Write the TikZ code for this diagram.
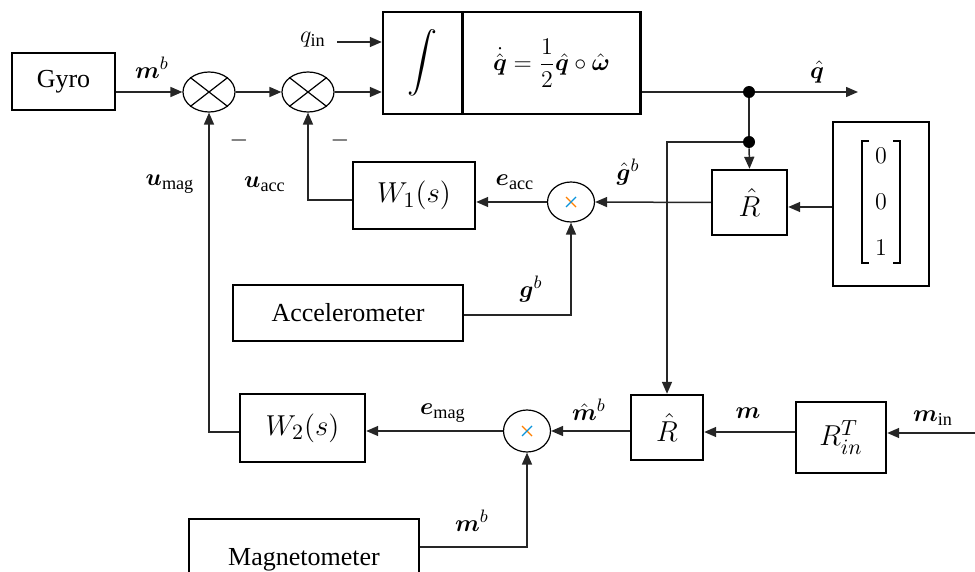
\documentclass[tikz,border=0pt]{standalone}
\usepackage{amsmath,amssymb,bm}
\usepackage{fontspec}
\setmainfont{Liberation Serif}
\usetikzlibrary{arrows.meta,shapes.geometric,calc}
\begin{document}
\begin{tikzpicture}[x=0.5pt,y=-0.5pt,
  font=\fontsize{13}{15}\selectfont,
  blk/.style={draw,line width=1.2pt,inner sep=0pt,align=center},
  big/.style={font=\fontsize{15.5}{18}\selectfont},
  sumx/.style={draw,ellipse,line width=0.6pt,inner sep=0pt},
  conn/.style={line width=0.75pt,draw=black!85},
  arr/.style={conn,-{Triangle[length=6pt,width=5pt]}},
  dotn/.style={circle,fill=black,inner sep=0pt,minimum size=6pt},
  lbl/.style={inner sep=0pt},
  brk/.style={line width=0.7pt}]
\useasboundingbox (0,0) rectangle (975,572);
% blocks
\node[blk,minimum width=51.5pt,minimum height=28.5pt] (gyro) at (63.5,81.5) {Gyro};
\node[sumx,minimum width=26pt,minimum height=20pt] (s1) at (209,92) {};
\node[sumx,minimum width=26pt,minimum height=20pt] (s2) at (308,92) {};
\foreach \s in {s1,s2}{
  \draw[line width=0.6pt] (\s.north east) -- (\s.south west);
  \draw[line width=0.6pt] (\s.north west) -- (\s.south east);}
\node[blk,minimum width=39.5pt,minimum height=51pt] (integ) at (422.5,63) {{\fontsize{15}{18}\selectfont$\displaystyle\int$}};
\node[blk,minimum width=89pt,minimum height=51pt] (eq) at (551.5,63) {$\dot{\hat{\bm q}}=\dfrac{1}{2}\hat{\bm q}\circ\hat{\bm\omega}$};
\node[dotn] (d1) at (749,92) {};
\node[dotn] (d2) at (749,142) {};
\coordinate (qout) at (858,92);
\node[blk,big,minimum width=37.5pt,minimum height=32.5pt] (R1) at (749.5,202.5) {$\hat{R}$};
% vector block with manual brackets
\node[blk,minimum width=48pt,minimum height=82pt] (vec) at (881,204) {};
\node[lbl] (v1) at (881,156) {$0$};
\node[lbl] (v2) at (881,202) {$0$};
\node[lbl] (v3) at (881,248) {$1$};
\draw[brk] (869,141) -- (862,141) -- (862,263) -- (869,263);
\draw[brk] (893,141) -- (900,141) -- (900,263) -- (893,263);
\node[sumx,minimum width=23.5pt,minimum height=20pt] (s3) at (571,202) {};
\node[blk,big,minimum width=61pt,minimum height=33.5pt] (W1) at (414,195.5) {$W_1(s)$};
\node[blk,minimum width=115pt,minimum height=28pt] (acc) at (348,313) {Accelerometer};
\node[blk,big,minimum width=62.5pt,minimum height=34pt] (W2) at (302.5,428) {$W_2(s)$};
\node[sumx,minimum width=23.5pt,minimum height=21pt] (s4) at (527,431) {};
\node[blk,big,minimum width=36pt,minimum height=32.5pt] (R2) at (667,427.5) {$\hat{R}$};
\node[blk,big,minimum width=45pt,minimum height=35.5pt] (Rin) at (841,437.5) {$R_{in}^{T}$};
\node[blk,minimum width=115pt,minimum height=40.5pt] (mag) at (304,559.5) {Magnetometer};
\coordinate (min) at (975,433);
\coordinate (qin) at (337,42);
% small colored crosses
\foreach \s in {s3,s4}{
  \draw[orange,line width=0.6pt] ($(\s.center)+(-5,-5)$) -- ($(\s.center)+(5,5)$);
  \draw[cyan!80!blue,line width=0.6pt] ($(\s.center)+(5,-5)$) -- ($(\s.center)+(-5,5)$);}
% connectors
\draw[arr] (gyro.east |- s1.west) -- (s1.west);
\draw[arr] (s1.east) -- (s2.west);
\draw[arr] (s2.east) -- (integ.west |- s2.east);
\draw[arr] (qin) -- (integ.west |- qin);
\draw[conn] (eq.east |- d1) -- (d1);
\draw[arr] (d1) -- (qout);
\draw[conn] (d1) -- (d2);
\draw[arr] (d2) -- (R1.north);
\draw[arr] (d2) -| (R2.north);
\draw[arr] (vec.west |- 0,207) -- (R1.east |- 0,207);
\draw[arr] (R1.west) -- (s3.east);
\draw[arr] (s3.west) -- (W1.east |- s3.west);
\draw[arr] (W1.west |- 0,200) -| (s2.south);
\draw[arr] (acc.east |- 0,315) -| (s3.south);
\draw[arr] (s4.west) -- (W2.east |- s4.west);
\draw[arr] (W2.west |- 0,432) -| (s1.south);
\draw[arr] (R2.west |- s4.east) -- (s4.east);
\draw[arr] (Rin.west |- 0,432) -- (R2.east |- 0,432);
\draw[arr] (min) -- (Rin.east |- min);
\draw[arr] (mag.east |- 0,547) -| (s4.south);
% labels
\node[lbl] (l1) at (152,68) {$\bm m^{b}$};
\node[lbl] (l2) at (313,40) {$q_{\mathrm{in}}$};
\node[lbl] (l3) at (239,141) {$-$};
\node[lbl] (l4) at (340,141) {$-$};
\node[lbl] (l5) at (170,184) {$\bm u_{\mathrm{mag}}$};
\node[lbl] (l6) at (265,184) {$\bm u_{\mathrm{acc}}$};
\node[lbl] (l7) at (817,72) {$\hat{\bm q}$};
\node[lbl] (l8) at (628,172) {$\hat{\bm g}^{b}$};
\node[lbl] (l9) at (515,182) {$\bm e_{\mathrm{acc}}$};
\node[lbl] (l10) at (531,289) {$\bm g^{b}$};
\node[lbl] (l11) at (443,413) {$\bm e_{\mathrm{mag}}$};
\node[lbl] (l12) at (589,410) {$\hat{\bm m}^{b}$};
\node[lbl] (l13) at (748,413) {$\bm m$};
\node[lbl] (l14) at (933,418) {$\bm m_{\mathrm{in}}$};
\node[lbl] (l15) at (472,521) {$\bm m^{b}$};
\end{tikzpicture}
\end{document}
